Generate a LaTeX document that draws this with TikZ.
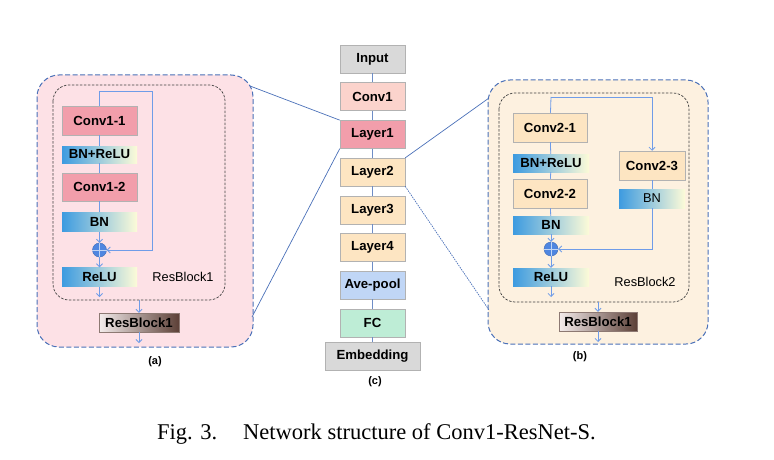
\documentclass[tikz,border=0pt]{standalone}
\usepackage{fontspec}
\setmainfont{Liberation Serif}
\setsansfont{Liberation Sans}
\usetikzlibrary{arrows.meta}

\definecolor{pinkbg}{HTML}{FDE1E6}
\definecolor{peachbg}{HTML}{FDF1E0}
\definecolor{convred}{HTML}{F29EAB}
\definecolor{lightred}{HTML}{FBD3CC}
\definecolor{orangefill}{HTML}{FDE5C2}
\definecolor{grayfill}{HTML}{D9D9D9}
\definecolor{poolfill}{HTML}{C0D6F6}
\definecolor{fcfill}{HTML}{BEEDD6}
\definecolor{bnl}{HTML}{3D9BE0}
\definecolor{bnr}{HTML}{FDFBD8}
\definecolor{rbl}{HTML}{F4ECEC}
\definecolor{rbr}{HTML}{5C4037}
\definecolor{addc}{HTML}{4F86E0}
\definecolor{linec}{HTML}{6F9CE8}
\definecolor{zoomc}{HTML}{4A70B8}

\newcommand{\boxfont}{\sffamily\bfseries\fontsize{13.2}{15}\selectfont}
\newcommand{\plainfont}{\sffamily\fontsize{12.8}{15}\selectfont}

\tikzset{
	blk/.style={draw=gray!60, line width=0.5pt, inner sep=0pt, minimum width=65pt, minimum height=28pt, font=\boxfont},
	grad/.style={inner sep=0pt, left color=bnl, right color=bnr, minimum width=75pt, minimum height=19pt, font=\boxfont},
	rblk/.style={draw=rbr!70, line width=0.4pt, inner sep=0pt, left color=rbl, right color=rbr, minimum width=80pt, minimum height=19pt, font=\boxfont},
	addop/.style={circle, draw=addc!80!black, fill=addc, minimum size=14pt, inner sep=0pt},
	flow/.style={draw=linec, line width=0.8pt},
	arr/.style={flow, -{Straight Barb[length=3pt,width=6pt]}},
	zoomln/.style={draw=zoomc, line width=0.7pt},
	panel/.style={draw=zoomc, dash pattern=on 5pt off 2.5pt, line width=1pt, rounded corners=22pt},
	blockln/.style={draw=black!75, dash pattern=on 2.5pt off 1.5pt, line width=0.7pt, rounded corners=16pt}
}

\begin{document}
\begin{tikzpicture}[x=1pt,y=-1pt]
	\useasboundingbox (0,0) rectangle (774,460);
	% Panels
	\draw[panel, fill=pinkbg] (37,75) rectangle (253,347);
	\draw[blockln] (53,85) rectangle (225,300);
	\draw[panel, fill=peachbg] (488,80) rectangle (708,344);
	\draw[blockln] (499,93) rectangle (689,302);

	% Main column
	\foreach \nm/\txt/\col [count=\i] in {inp/Input/grayfill, convc/Conv1/lightred, layera/Layer1/convred, layerb/Layer2/orangefill, layerc/Layer3/orangefill, layerd/Layer4/orangefill, pool/Ave-pool/poolfill, fc/FC/fcfill} {
		\node[blk, fill=\col] (\nm) at (372.5, {59+37.7*(\i-1)}) {\txt};
	}
	\node[blk, fill=grayfill, minimum width=95pt] (emb) at (372.5,356) {Embedding};
	\foreach \a/\b in {inp/convc, convc/layera, layera/layerb, layerb/layerc, layerc/layerd, layerd/pool, pool/fc, fc/emb} {
		\draw[flow, line width=0.6pt, draw=zoomc!80] (\a) -- (\b);
	}
	\node[font=\sffamily\bfseries\fontsize{11}{13}\selectfont] (capc) at (375,382) {(c)};

	% Zoom lines
	\coordinate (pa1) at (250,86);
	\coordinate (pa2) at (252,317);
	\coordinate (pb1) at (489,98);
	\coordinate (pb2) at (489,310);
	\draw[zoomln] (pa1) -- (layera.north west);
	\draw[zoomln] (pa2) -- (layera.south west);
	\draw[zoomln] (layerb.north east) -- (pb1);
	\draw[zoomln, dash pattern=on 1.5pt off 1pt] (layerb.south east) -- (pb2);

	% ResBlock1
	\node[blk, fill=convred, minimum width=75pt, minimum height=29pt] (convaa) at (99.5,120.5) {Conv1-1};
	\node[grad, minimum height=17pt] (bnrelua) at (99.5,154.5) {BN+ReLU};
	\node[blk, fill=convred, minimum width=75pt] (convab) at (99.5,187) {Conv1-2};
	\node[grad] (bna) at (99.5,222) {BN};
	\node[addop] (adda) at (99.5,250) {};
	\node[grad] (relua) at (99.5,277) {ReLU};
	\node[rblk] (rba) at (139,322.5) {ResBlock1};
	\node[font=\plainfont] (laba) at (183,277) {ResBlock1};
	\node[font=\sffamily\bfseries\fontsize{11}{13}\selectfont] (capa) at (155,362) {(a)};
	\coordinate (topa) at (99.5,91);
	\coordinate (skipa) at (152,91);
	\coordinate (outa) at (99.5,297);
	\coordinate (ina) at (139,300);
	\coordinate (enda) at (139,343);
	\draw[addc!35!white, line width=0.6pt] (adda.north) -- (adda.south) (adda.west) -- (adda.east);
	\draw[flow] (topa) -- (convaa);
	\draw[flow] (convaa) -- (bnrelua);
	\draw[flow] (bnrelua) -- (convab);
	\draw[flow] (convab) -- (bna);
	\draw[arr] (bna) -- (adda);
	\draw[arr] (adda) -- (relua);
	\draw[arr] (relua) -- (outa);
	\draw[arr] (topa) -- (skipa) |- (adda);
	\draw[arr] (ina) -- (rba);
	\draw[arr] (rba) -- (enda);

	% ResBlock2
	\node[blk, fill=orangefill, minimum width=74pt, minimum height=29pt] (convba) at (550,127.5) {Conv2-1};
	\node[grad, minimum width=76pt, minimum height=18pt] (bnrelub) at (551,163) {BN+ReLU};
	\node[blk, fill=orangefill, minimum width=74pt, minimum height=29pt] (convbb) at (550,193.5) {Conv2-2};
	\node[grad, minimum width=76pt, minimum height=18pt] (bnb) at (551,225) {BN};
	\node[addop] (addb) at (551,249) {};
	\node[grad, minimum width=76pt, minimum height=18pt] (relub) at (551,277) {ReLU};
	\node[blk, fill=orangefill, minimum width=66pt, minimum height=29pt] (convbc) at (652,165.5) {Conv2-3};
	\node[grad, minimum width=66pt, font=\plainfont] (bnbc) at (652,198.5) {BN};
	\node[rblk, minimum width=78pt] (rbb) at (598,321.5) {ResBlock1};
	\node[font=\plainfont] (labb) at (645,282) {ResBlock2};
	\node[font=\sffamily\bfseries\fontsize{11}{13}\selectfont] (capb) at (580,357) {(b)};
	\coordinate (topb) at (551,97);
	\coordinate (outb) at (551,297);
	\coordinate (inb) at (598,302);
	\coordinate (endb) at (598,342);
	\draw[addc!35!white, line width=0.6pt] (addb.north) -- (addb.south) (addb.west) -- (addb.east);
	\draw[flow] (topb) -- (convba);
	\draw[flow] (convba) -- (bnrelub);
	\draw[flow] (bnrelub) -- (convbb);
	\draw[flow] (convbb) -- (bnb);
	\draw[arr] (bnb) -- (addb);
	\draw[arr] (addb) -- (relub);
	\draw[arr] (relub) -- (outb);
	\draw[arr] (topb) -| (convbc);
	\draw[flow] (convbc) -- (bnbc);
	\draw[arr] (bnbc) |- (addb);
	\draw[arr] (inb) -- (rbb);
	\draw[arr] (rbb) -- (endb);

	% Caption
	\node[anchor=base west, inner sep=0pt, font=\fontsize{22.5}{26}\selectfont] (cap) at (157,439) {Fig. 3.\hspace{26pt}Network structure of Conv1-ResNet-S.};
\end{tikzpicture}
\end{document}
